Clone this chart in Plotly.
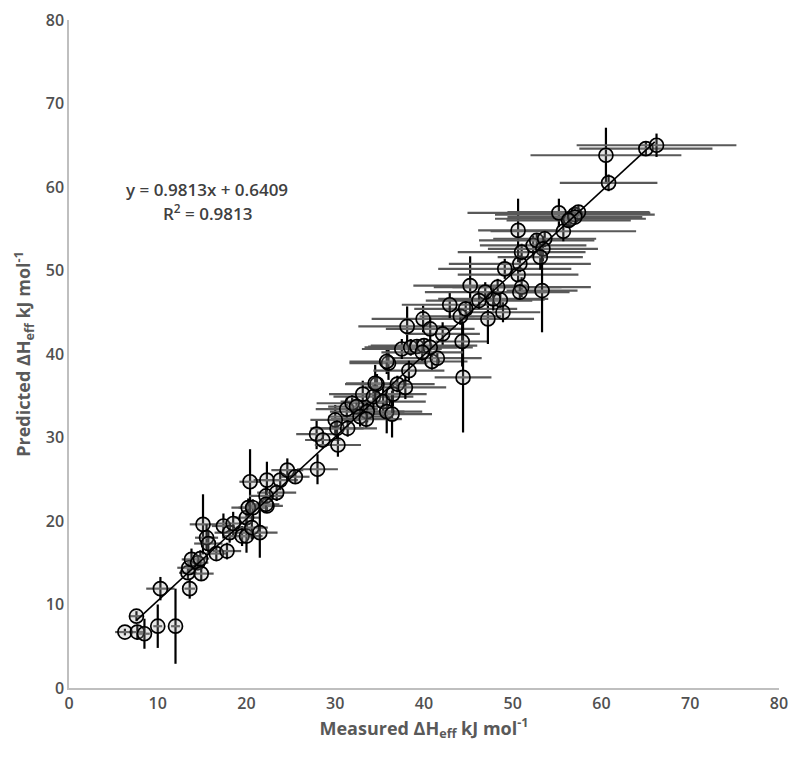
import numpy as np
import plotly.graph_objs as go

# measured vs predicted dH_eff (kJ/mol)
measured = [6.3, 7.6, 7.7, 8.5, 10.0, 10.3, 12.0, 13.6, 13.4, 13.5,
            13.8, 14.5, 14.8, 14.9, 15.1, 15.5, 15.7, 16.6, 17.4, 17.8,
            18.1, 18.5, 19.5, 20.0, 20.0, 20.2, 20.7, 20.6, 21.5, 22.3,
            20.4, 22.3, 23.8, 24.6, 25.5, 23.4, 22.2, 22.2, 27.9, 28.0,
            28.6, 30.3, 30.0, 30.2, 31.4, 31.3, 31.9, 32.4, 33.1, 33.6,
            34.3, 34.7, 35.4, 35.8, 36.4, 36.5, 37.0, 36.0, 32.8, 33.5,
            34.5, 37.9, 35.8, 38.1, 39.9, 42.1, 40.9, 41.5, 37.5, 38.5,
            39.2, 40.0, 40.7, 40.7, 44.4, 44.3, 47.2, 44.1, 44.7, 42.9,
            45.2, 48.9, 48.6, 47.8, 46.9, 48.3, 49.1, 50.6, 51.0, 50.8,
            51.0, 52.3, 50.6, 52.7, 53.6, 53.4, 53.1, 53.3, 50.8, 55.7,
            55.2, 56.5, 57.0, 57.4, 57.0, 56.3, 60.5, 60.8, 65.0, 66.2,
            38.3, 39.8, 46.2]
predicted = [6.7, 8.6, 6.7, 6.5, 7.4, 11.9, 7.4, 11.9, 13.8, 14.4,
             15.4, 15.0, 15.5, 13.7, 19.6, 18.0, 17.3, 16.1, 19.4, 16.4,
             18.6, 19.7, 18.2, 18.2, 20.4, 21.6, 21.6, 19.2, 18.6, 21.8,
             24.7, 24.9, 24.9, 26.1, 25.3, 23.4, 23.0, 22.0, 30.4, 26.2,
             29.7, 29.1, 32.1, 31.1, 31.1, 33.4, 34.1, 33.7, 35.2, 33.1,
             34.9, 36.4, 34.3, 33.1, 32.8, 35.2, 36.4, 38.9, 32.5, 32.2,
             36.5, 36.0, 39.1, 43.3, 44.2, 42.4, 39.1, 39.5, 40.6, 40.8,
             40.9, 41.0, 40.8, 43.0, 37.2, 41.5, 44.2, 44.5, 45.4, 45.9,
             48.2, 45.0, 46.5, 46.6, 47.4, 48.0, 50.2, 49.5, 48.0, 50.8,
             52.2, 53.0, 54.8, 53.6, 53.8, 52.6, 51.6, 47.6, 47.4, 54.7,
             56.9, 56.2, 56.7, 57.0, 56.4, 56.0, 63.8, 60.5, 64.6, 65.0,
             38.0, 40.2, 46.4]
measured_err = [1.1, 0.8, 0.7, 0.6, 0.5, 1.6, 0.5, 0.6, 1.0, 1.3,
                1.1, 1.2, 1.0, 1.4, 1.5, 1.3, 1.6, 1.2, 1.3, 1.6,
                1.7, 1.9, 2.0, 1.8, 1.4, 1.9, 1.6, 1.8, 2.0, 1.8,
                1.2, 1.5, 2.0, 1.8, 1.6, 2.2, 1.9, 1.5, 2.3, 2.3,
                2.0, 2.6, 2.8, 3.0, 3.3, 3.5, 4.0, 3.2, 3.8, 4.2,
                4.5, 3.6, 4.8, 4.0, 4.5, 3.8, 4.2, 4.4, 3.6, 4.0,
                3.3, 4.6, 4.2, 5.5, 5.8, 4.2, 4.0, 5.0, 4.5, 5.2,
                5.5, 6.0, 4.8, 5.0, 3.2, 3.0, 5.2, 4.6, 5.8, 5.4,
                6.4, 4.2, 5.0, 6.2, 6.8, 7.2, 7.5, 6.8, 7.8, 8.0,
                7.2, 6.0, 4.5, 6.5, 5.8, 6.2, 4.8, 4.0, 5.6, 8.2,
                10.3, 8.5, 9.0, 8.0, 7.6, 7.0, 8.5, 5.5, 7.5, 9.0,
                4.0, 4.6, 6.0]
predicted_err = [0.4, 0.6, 0.9, 1.8, 2.6, 1.4, 4.5, 1.2, 0.8, 0.7,
                 1.3, 0.9, 1.0, 0.8, 3.6, 1.6, 1.4, 0.8, 1.5, 1.0,
                 1.2, 1.4, 1.2, 2.0, 1.3, 1.1, 1.0, 1.4, 3.0, 0.6,
                 3.9, 2.2, 1.2, 1.4, 0.8, 1.0, 1.2, 0.8, 1.8, 1.8,
                 1.0, 1.4, 1.8, 1.2, 1.0, 1.4, 1.2, 1.0, 1.6, 1.3,
                 1.5, 1.2, 2.0, 2.6, 2.8, 1.5, 1.0, 2.0, 1.2, 1.0,
                 2.2, 1.4, 1.5, 2.4, 1.6, 1.4, 1.0, 0.8, 1.2, 1.0,
                 0.9, 0.8, 1.0, 1.4, 6.6, 3.0, 3.0, 1.0, 1.2, 1.6,
                 3.5, 1.2, 1.0, 1.4, 1.2, 1.0, 1.2, 0.8, 1.2, 1.0,
                 1.0, 1.2, 3.8, 0.8, 1.0, 1.5, 1.5, 5.0, 1.0, 1.2,
                 1.7, 0.8, 0.8, 0.8, 0.6, 0.8, 3.3, 1.0, 0.8, 1.4,
                 1.2, 1.0, 1.0]

# linear trend line from the chart
slope = 0.9813
intercept = 0.6409
r2 = 0.9813
trend_x = [7.6, 66.0]


def main():

    fig = go.Figure()

    fig.add_trace(go.Scatter(x=measured, y=predicted, mode="markers",
                    name="data",
                    marker=dict(symbol="circle", size=14,
                                color="rgba(160,160,160,0.25)",
                                line=dict(width=1.7, color="black")),
                    error_x=dict(type="data", array=measured_err,
                                 color="#595959", thickness=2.2, width=0),
                    error_y=dict(type="data", array=predicted_err,
                                 color="black", thickness=2.2, width=0),
                )
    )

    ty = [slope * v + intercept for v in trend_x]
    fig.add_trace(go.Scatter(x=trend_x, y=ty, mode="lines", name="fit",
                    line=dict(color="black", width=1.6)))

    axis_font = dict(family="Open Sans", size=16, color="#505050", weight=600)
    title_font = dict(family="Open Sans", size=18, color="#595959", weight=700)

    # page body has an 8px margin, so shift the plot area to compensate
    fig.update_layout(
            width=797, height=761,
            showlegend=False,
            plot_bgcolor="white",
            paper_bgcolor="white",
            margin=dict(l=61, r=26, t=12, b=81),
            font=dict(family="Open Sans", size=15, color="#404040"),
            xaxis=dict(range=[0, 80], dtick=10, showgrid=False,
                       zeroline=False, showline=True, linecolor="#bfbfbf",
                       linewidth=1.5, ticks="", tickfont=axis_font,
                       automargin=False, ticklabeloverflow="allow",
                       title=dict(text="Measured ΔH<sub>eff</sub> kJ mol<sup>-1</sup>",
                                  font=title_font, standoff=4)),
            yaxis=dict(range=[0, 80], dtick=10, showgrid=False,
                       zeroline=False, showline=True, linecolor="#bfbfbf",
                       linewidth=1.5, ticks="", tickfont=axis_font,
                       automargin=False, ticklabeloverflow="allow",
                       title=dict(text="Predicted ΔH<sub>eff</sub> kJ mol<sup>-1</sup>",
                                  font=title_font, standoff=10)),
    )

    ann_font = dict(family="Open Sans", size=17, color="#404040", weight=600)
    fig.add_annotation(x=15.6, y=59.7, xref="x", yref="y", showarrow=False,
                       text="y = %.4fx + %.4f" % (slope, intercept),
                       font=ann_font)
    fig.add_annotation(x=15.6, y=56.9, xref="x", yref="y", showarrow=False,
                       text="R<sup>2</sup> = %.4f" % r2,
                       font=ann_font)

    fig.write_html("out.html")


if __name__ == "__main__":
    main()
